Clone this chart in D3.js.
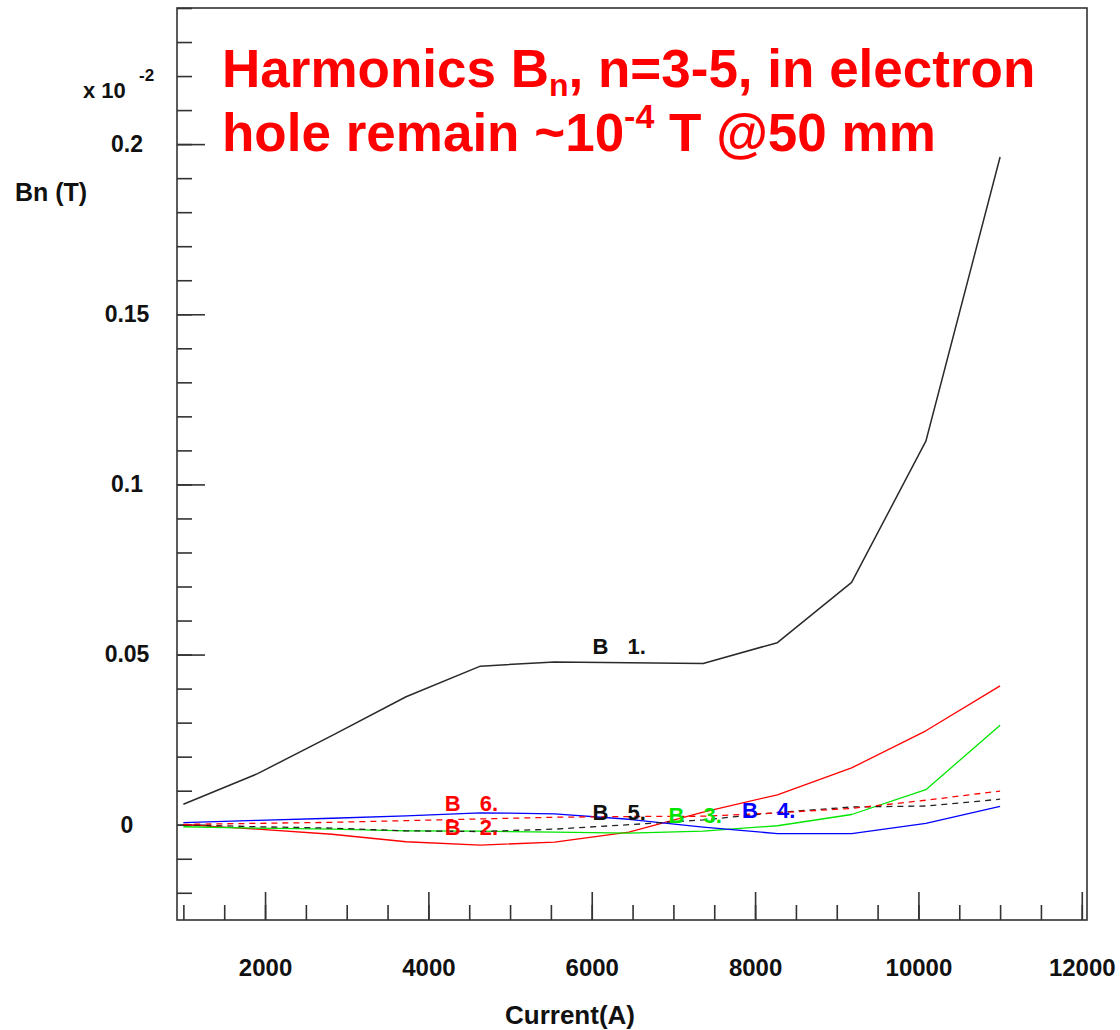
<!DOCTYPE html>
<html>
<head>
<meta charset="utf-8">
<script src="https://cdn.jsdelivr.net/npm/d3@7/dist/d3.min.js"></script>
<style>
  html, body { margin: 0; padding: 0; background: #fff; }
  svg { display: block; font-family: "Liberation Sans", Arial, sans-serif; }
</style>
</head>
<body>
<svg id="chart" width="1120" height="1030"></svg>
<script>
// Excitation current (A) at which the harmonics were evaluated
const current = [1000, 1909, 2818, 3727, 4636, 5545, 6455, 7364, 8273, 9182, 10091, 11000];

// Harmonic amplitudes Bn (T, in units of 1e-2) at the reference radius
const b1 = [0.0060, 0.0150, 0.0262, 0.0376, 0.0466, 0.0478, 0.0476, 0.0474, 0.0535, 0.0712, 0.1127, 0.1962];
const b2 = [0.0000, -0.0013, -0.0028, -0.0050, -0.0060, -0.0051, -0.0022, 0.0037, 0.0088, 0.0167, 0.0276, 0.0408];
const b3 = [-0.0006, -0.0010, -0.0013, -0.0018, -0.0019, -0.0022, -0.0025, -0.0019, -0.0003, 0.0030, 0.0103, 0.0292];
const b4 = [0.0006, 0.0013, 0.0019, 0.0026, 0.0035, 0.0032, 0.0016, -0.0007, -0.0026, -0.0026, 0.0004, 0.0054];
const b5 = [0.0000, -0.0006, -0.0010, -0.0018, -0.0020, -0.0013, 0.0000, 0.0014, 0.0036, 0.0052, 0.0055, 0.0075];
const b6 = [0.0001, 0.0004, 0.0007, 0.0012, 0.0017, 0.0022, 0.0024, 0.0025, 0.0035, 0.0048, 0.0072, 0.0099];

// Curve labels: harmonic order and the (current, Bn) point where its text sits
const labelOrder = [1, 6, 2, 5, 3, 4];
const labelCurrent = [6010, 4200, 4200, 6010, 6940, 7840];
const labelValue = [0.0502, 0.0040, -0.0029, 0.0015, 0.0004, 0.0021];

// Axis ticks
const xMajorTicks = [2000, 4000, 6000, 8000, 10000, 12000];
const xMinorTicks = d3.range(1000, 12001, 500);
const yMajorTicks = [0, 0.05, 0.1, 0.15, 0.2];
const yTickLabels = ["0", "0.05", "0.1", "0.15", "0.2"];
const yMinorTicks = d3.range(-0.02, 0.2401, 0.01);

const svg = d3.select("#chart");
const frame = { left: 177, right: 1087, top: 8, bottom: 920 };

const x = d3.scaleLinear().domain([922, 12064]).range([frame.left, frame.right]);
const y = d3.scaleLinear().domain([-0.028, 0.24]).range([frame.bottom, frame.top]);

const axisColor = "#333";

// Frame
svg.append("rect")
  .attr("x", frame.left).attr("y", frame.top)
  .attr("width", frame.right - frame.left).attr("height", frame.bottom - frame.top)
  .attr("fill", "none").attr("stroke", axisColor).attr("stroke-width", 1.6);

// X axis: inward ticks, labels well below
const xMinor = svg.append("g").attr("transform", `translate(0,${frame.bottom})`)
  .call(d3.axisBottom(x).tickValues(xMinorTicks).tickSizeInner(-15).tickSizeOuter(0).tickFormat(""));
const xMajor = svg.append("g").attr("transform", `translate(0,${frame.bottom})`)
  .call(d3.axisBottom(x).tickValues(xMajorTicks).tickSizeInner(-28).tickSizeOuter(0).tickPadding(39).tickFormat(d3.format("d")));
[xMinor, xMajor].forEach(g => {
  g.select(".domain").remove();
  g.selectAll(".tick line").attr("stroke", axisColor).attr("stroke-width", 1.6);
});
xMajor.selectAll(".tick text")
  .attr("fill", "#111").attr("font-size", 24).attr("font-weight", "bold");

// Y axis
const yMinor = svg.append("g").attr("transform", `translate(${frame.left},0)`)
  .call(d3.axisLeft(y).tickValues(yMinorTicks).tickSizeInner(-15).tickSizeOuter(0).tickFormat(""));
const yMajor = svg.append("g").attr("transform", `translate(${frame.left},0)`)
  .call(d3.axisLeft(y).tickValues(yMajorTicks).tickSizeInner(-28).tickSizeOuter(0)
    .tickFormat((d, i) => yTickLabels[i]));
[yMinor, yMajor].forEach(g => {
  g.select(".domain").remove();
  g.selectAll(".tick line").attr("stroke", axisColor).attr("stroke-width", 1.6);
});
yMajor.selectAll(".tick text")
  .attr("x", -50).attr("text-anchor", "middle")
  .attr("fill", "#111").attr("font-size", 23).attr("font-weight", "bold");

// Axis titles and multiplier
svg.append("text").attr("x", 570).attr("y", 1024).attr("text-anchor", "middle")
  .attr("font-size", 26).attr("font-weight", "bold").attr("fill", "#111").text("Current(A)");
svg.append("text").attr("x", 15).attr("y", 201)
  .attr("font-size", 25).attr("font-weight", "bold").attr("fill", "#111").text("Bn (T)");
const mult = svg.append("text").attr("x", 83).attr("y", 98)
  .attr("font-size", 22).attr("font-weight", "bold").attr("fill", "#111");
mult.append("tspan").text("x 10");
mult.append("tspan").attr("x", 139).attr("y", 81).attr("font-size", 17).text("-2");

// Harmonic curves
const series = [
  { n: 1, values: b1, color: "#2a2a2a", dash: null, width: 1.5 },
  { n: 2, values: b2, color: "#ff0000", dash: null, width: 1.3 },
  { n: 3, values: b3, color: "#00e600", dash: null, width: 1.3 },
  { n: 4, values: b4, color: "#0000ff", dash: null, width: 1.3 },
  { n: 5, values: b5, color: "#222", dash: "6,5", width: 1.3 },
  { n: 6, values: b6, color: "#ff0000", dash: "6,5", width: 1.3 }
];
const line = d3.line().x((d, i) => x(current[i])).y(d => y(d));
const plot = svg.append("g");
series.forEach(s => {
  plot.append("path").datum(s.values)
    .attr("d", line)
    .attr("fill", "none")
    .attr("stroke", s.color)
    .attr("stroke-width", s.width)
    .attr("stroke-dasharray", s.dash)
    .attr("stroke-linejoin", "round");
});

// Curve labels, coloured like their curves
const labelColor = { 1: "#111", 2: "#ff0000", 3: "#00e600", 4: "#0000ff", 5: "#111", 6: "#ff0000" };
labelOrder.forEach((n, i) => {
  const lx = x(labelCurrent[i]), ly = y(labelValue[i]);
  const g = plot.append("g").attr("fill", labelColor[n])
    .attr("font-size", 22).attr("font-weight", "bold");
  g.append("text").attr("x", lx).attr("y", ly).text("B");
  g.append("text").attr("x", lx + 35).attr("y", ly).text(n + ".");
});

// Title annotation
const title = svg.append("g").attr("fill", "#ff0000").attr("font-weight", "bold").attr("font-size", 53);
const t1 = title.append("text").attr("x", 222).attr("y", 87);
t1.append("tspan").text("Harmonics B");
t1.append("tspan").attr("font-size", 32).attr("dy", 9).text("n");
t1.append("tspan").attr("dy", -9).text(", n=3-5, in electron");
const t2 = title.append("text").attr("x", 222).attr("y", 151);
t2.append("tspan").text("hole remain ~10");
t2.append("tspan").attr("font-size", 34).attr("dy", -23).text("-4");
t2.append("tspan").attr("dy", 23).text(" T @50 mm");
</script>
</body>
</html>
